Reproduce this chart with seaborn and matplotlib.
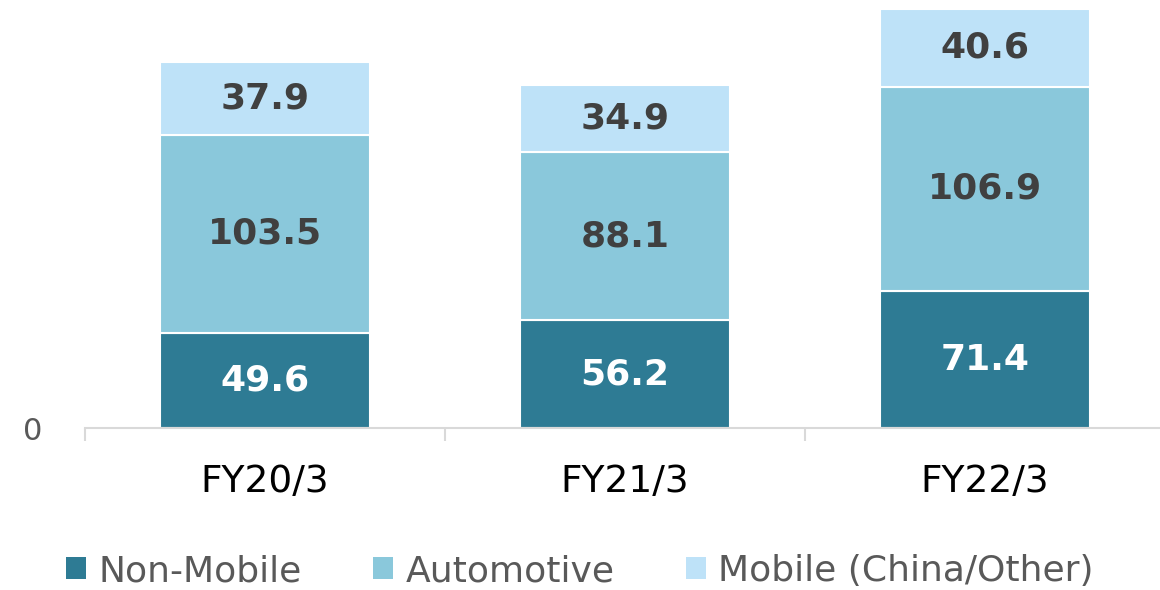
import numpy as np
import pandas as pd
import seaborn as sns
import matplotlib.pyplot as plt
from matplotlib.patches import Patch

# data
years = ['FY20/3', 'FY21/3', 'FY22/3']
non_mobile = [49.6, 56.2, 71.4]
automotive = [103.5, 88.1, 106.9]
mobile_china = [37.9, 34.9, 40.6]
series_names = ['Non-Mobile', 'Automotive', 'Mobile (China/Other)']

colors = ['#2E7B94', '#8AC8DB', '#BEE2F8']
label_colors = ['white', '#404040', '#404040']

sns.set_style('white')
plt.rcParams['font.family'] = ['DejaVu Sans']

fig = plt.figure(figsize=(11.6, 5.9), dpi=100)
ax = fig.add_axes([85 / 1160, 162 / 590, 1080 / 1160, 428 / 590])

bottom = np.zeros(len(years))
for vals, name, col, lc in zip([non_mobile, automotive, mobile_china],
                               series_names, colors, label_colors):
    df = pd.DataFrame({'year': years, 'value': vals})
    sns.barplot(data=df, x='year', y='value', order=years, color=col,
                saturation=1, width=0.583, bottom=bottom, edgecolor='white',
                linewidth=1.5, ax=ax, errorbar=None)
    cont = ax.containers[-1]
    ax.bar_label(cont, labels=['%.1f' % v for v in vals], label_type='center',
                 color=lc, fontsize=26, fontweight='bold')
    bottom = bottom + np.array(vals)

ax.set_xlim(-0.5, 2.5)
ax.set_ylim(0, 223.5)
ax.set_xlabel('')
ax.set_ylabel('')
ax.set_yticks([0])
ax.set_yticklabels(['0'], fontsize=22, color='#595959')
ax.tick_params(axis='y', left=False, length=0, pad=31)
ax.tick_params(axis='x', which='major', length=0, labelsize=27, pad=26,
               labelcolor='black')
ax.set_xticks([-0.5, 0.5, 1.5, 2.5], minor=True)
ax.tick_params(axis='x', which='minor', bottom=True, length=9, width=1.5,
               color='#D9D9D9')

for s in ['top', 'right', 'left']:
    ax.spines[s].set_visible(False)
ax.spines['bottom'].set_color('#D9D9D9')
ax.spines['bottom'].set_linewidth(1.5)

handles = [Patch(facecolor=c, edgecolor='none') for c in colors]
fig.legend(handles, series_names, loc='center', bbox_to_anchor=(0.5, 1 - 571 / 590),
           ncol=3, frameon=False, fontsize=26, labelcolor='#595959',
           handlelength=0.55, handleheight=0.55, handletextpad=0.33,
           columnspacing=2.0)

fig.savefig('out.png', dpi=100)
